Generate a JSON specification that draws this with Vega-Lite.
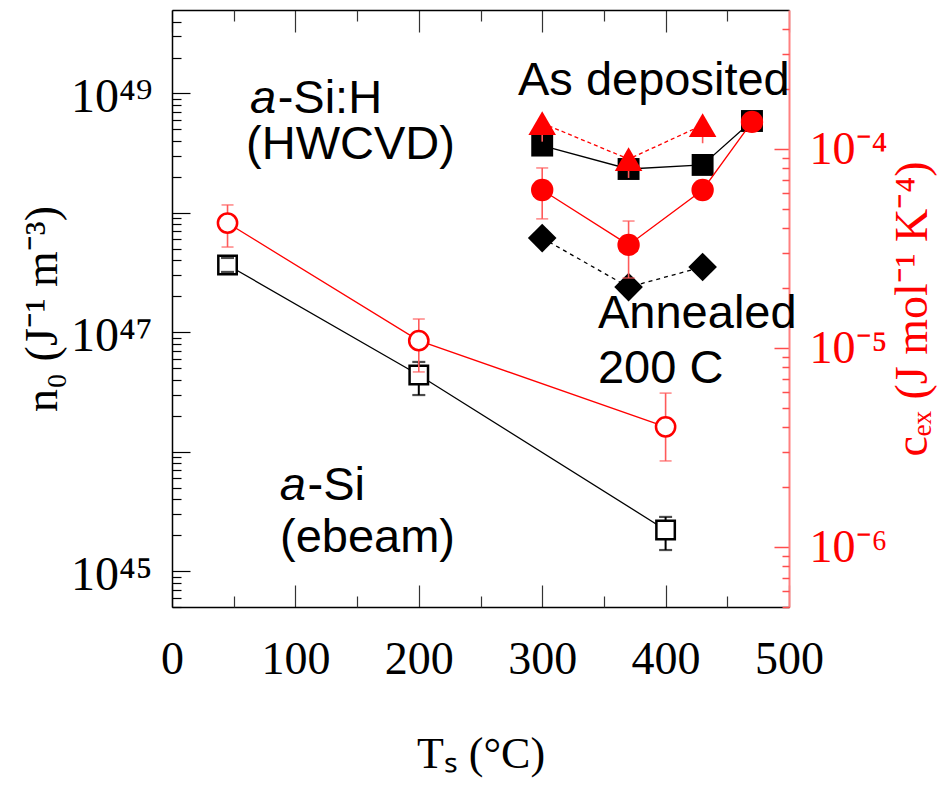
{
  "$schema": "https://vega.github.io/schema/vega-lite/v6.json",
  "width": 617,
  "height": 597,
  "autosize": {"type": "none"},
  "padding": {"left": 172, "top": 10, "right": 163, "bottom": 179},
  "background": "white",
  "config": {"view": {"stroke": null}, "axis": {"grid": false}},
  "datasets": {
    "pts": [
      {"s": "sq_open", "T": 45, "v": 3.66e47, "lo": 3.2e47, "hi": 4.19e47},
      {"s": "sq_open", "T": 200, "v": 4.39e46, "lo": 2.98e46, "hi": 5.64e46},
      {"s": "sq_open", "T": 400, "v": 2.21e45, "lo": 1.5e45, "hi": 2.84e45},
      {"s": "sq_fill", "T": 300, "v": 3.66e48},
      {"s": "sq_fill", "T": 370, "v": 2.33e48},
      {"s": "sq_fill", "T": 430, "v": 2.52e48},
      {"s": "sq_fill", "T": 470, "v": 5.88e48},
      {"s": "dia", "T": 300, "v": 6.15e47},
      {"s": "dia", "T": 370, "v": 2.39e47},
      {"s": "dia", "T": 430, "v": 3.52e47},
      {"s": "circ_open", "T": 45, "v": 4.25e-5, "lo": 3.22e-5, "hi": 5.24e-5},
      {"s": "circ_open", "T": 200, "v": 1.09e-5, "lo": 7.59e-6, "hi": 1.4e-5},
      {"s": "circ_open", "T": 400, "v": 4.02e-6, "lo": 2.71e-6, "hi": 5.94e-6},
      {"s": "circ_fill", "T": 300, "v": 6.23e-5, "lo": 4.46e-5, "hi": 8.04e-5},
      {"s": "circ_fill", "T": 370, "v": 3.3e-5, "lo": 2.25e-5, "hi": 4.35e-5},
      {"s": "circ_fill", "T": 430, "v": 6.23e-5},
      {"s": "circ_fill", "T": 470, "v": 1.37e-4},
      {"s": "tri", "T": 300, "v": 1.35e-4, "lo": 1.09e-4, "hi": 1.35e-4},
      {"s": "tri", "T": 370, "v": 8.91e-5, "lo": 7.16e-5, "hi": 8.91e-5},
      {"s": "tri", "T": 430, "v": 1.32e-4, "lo": 1.07e-4, "hi": 1.32e-4}
    ],
    "txt": [
      {"label": "a", "T": 84.3, "y": 6.86e48, "it": true},
      {"label": "-Si:H", "T": 85.6, "y": 6.86e48, "it": false},
      {"label": "(HWCVD)", "T": 60, "y": 2.83e48, "it": false},
      {"label": "As deposited", "T": 280.4, "y": 9.71e48, "it": false},
      {"label": "Annealed", "T": 345.2, "y": 1.09e47, "it": false},
      {"label": "200 C", "T": 345.2, "y": 3.76e46, "it": false},
      {"label": "a", "T": 108.5, "y": 3.94e45, "it": true},
      {"label": "-Si", "T": 109.8, "y": 3.94e45, "it": false},
      {"label": "(ebeam)", "T": 87.5, "y": 1.44e45, "it": false}
    ]
  },
  "layer": [
    {
      "data": {"name": "pts"},
      "transform": [{"filter": "datum.s == 'sq_open' || datum.s == 'sq_fill'"}],
      "mark": {"type": "line", "color": "black", "strokeWidth": 1.3},
      "encoding": {
        "x": {
          "field": "T", "type": "quantitative",
          "scale": {"domain": [0, 500], "nice": false, "zero": false},
          "axis": {
            "orient": "bottom",
            "values": [0, 100, 200, 300, 400, 500],
            "tickSize": -22,
            "tickColor": "#333333",
            "tickWidth": 1.2,
            "domainColor": "black",
            "domainWidth": 1.5,
            "format": "d",
            "labelFont": "Liberation Serif",
            "labelFontSize": 46,
            "labelColor": "black",
            "labelPadding": 52,
            "labelFlush": false,
            "labelOverlap": false,
            "title": "Tₛ (°C)",
            "titleFont": "Liberation Serif",
            "titleFontSize": 44,
            "titleFontWeight": "normal",
            "titleColor": "black",
            "titlePadding": 50
          }
        },
        "y": {
          "field": "v", "type": "quantitative",
          "scale": {"type": "log", "domain": [5e44, 5e49], "nice": false},
          "axis": {
            "orient": "left",
            "values": [1e45, 1e46, 1e47, 1e48, 1e49],
            "tickSize": -18,
            "tickColor": "black",
            "tickWidth": 1.2,
            "domainColor": "black",
            "domainWidth": 1.5,
            "labelExpr": "datum.value == 1e49 ? '10⁴⁹' : datum.value == 1e47 ? '10⁴⁷' : datum.value == 1e45 ? '10⁴⁵' : ''",
            "labelFont": "Liberation Serif",
            "labelFontSize": 48,
            "labelColor": "black",
            "labelPadding": 38,
            "labelOffset": 4,
            "labelFlush": false,
            "labelOverlap": false,
            "title": "n₀ (J⁻¹ m⁻³)",
            "titleFont": "Liberation Serif",
            "titleFontSize": 46,
            "titleFontWeight": "normal",
            "titleColor": "black",
            "titlePadding": 4
          }
        },
        "detail": {"field": "s"},
        "order": {"field": "T"}
      }
    },
    {
      "data": {"name": "pts"},
      "transform": [{"filter": "datum.s == 'dia'"}],
      "mark": {"type": "line", "color": "black", "strokeWidth": 1.3, "strokeDash": [4, 4]},
      "encoding": {
        "x": {
          "field": "T", "type": "quantitative",
          "scale": {"domain": [0, 500], "nice": false, "zero": false},
          "axis": {
            "orient": "bottom",
            "values": [50, 150, 250, 350, 450],
            "tickSize": -11,
            "tickColor": "#333333",
            "tickWidth": 1.2,
            "domain": false,
            "labels": false,
            "title": null
          }
        },
        "y": {
          "field": "v", "type": "quantitative",
          "scale": {"type": "log", "domain": [5e44, 5e49], "nice": false},
          "axis": {
            "orient": "left",
            "values": [5e44, 6e44, 7e44, 8e44, 9e44, 2e45, 3e45, 4e45, 5e45, 6e45, 7e45, 8e45, 9e45, 2e46, 3e46, 4e46, 5e46, 6e46, 7e46, 8e46, 9e46, 2e47, 3e47, 4e47, 5e47, 6e47, 7e47, 8e47, 9e47, 2e48, 3e48, 4e48, 5e48, 6e48, 7e48, 8e48, 9e48, 2e49, 3e49, 4e49],
            "tickSize": -9,
            "tickColor": "black",
            "tickWidth": 1.2,
            "domain": false,
            "labels": false,
            "title": null
          }
        },
        "order": {"field": "T"}
      }
    },
    {
      "data": {"name": "pts"},
      "transform": [{"filter": "datum.s == 'sq_open'"}],
      "mark": {"type": "rule", "color": "black", "strokeWidth": 2},
      "encoding": {
        "x": {
          "field": "T", "type": "quantitative",
          "scale": {"domain": [0, 500], "nice": false, "zero": false},
          "axis": {
            "orient": "top",
            "values": [0, 100, 200, 300, 400, 500],
            "tickSize": -22,
            "tickColor": "#333333",
            "tickWidth": 1.2,
            "domainColor": "black",
            "domainWidth": 1.5,
            "labels": false,
            "title": null
          }
        },
        "y": {"field": "lo", "type": "quantitative", "scale": {"type": "log", "domain": [5e44, 5e49], "nice": false}, "axis": null},
        "y2": {"field": "hi"}
      }
    },
    {
      "data": {"name": "pts"},
      "transform": [{"filter": "datum.s == 'sq_open'"}],
      "mark": {"type": "point", "shape": "square", "filled": true, "fill": "white", "stroke": "black", "strokeWidth": 2.5, "size": 340, "opacity": 1},
      "encoding": {
        "x": {
          "field": "T", "type": "quantitative",
          "scale": {"domain": [0, 500], "nice": false, "zero": false},
          "axis": {
            "orient": "top",
            "values": [50, 150, 250, 350, 450],
            "tickSize": -11,
            "tickColor": "#333333",
            "tickWidth": 1.2,
            "domain": false,
            "labels": false,
            "title": null
          }
        },
        "y": {"field": "v", "type": "quantitative", "scale": {"type": "log", "domain": [5e44, 5e49], "nice": false}, "axis": null}
      }
    },
    {
      "data": {"name": "pts"},
      "transform": [{"filter": "datum.s == 'sq_open'"}],
      "mark": {"type": "tick", "orient": "horizontal", "color": "black", "size": 13, "thickness": 2.2},
      "encoding": {
        "x": {"field": "T", "type": "quantitative", "scale": {"domain": [0, 500], "nice": false, "zero": false}, "axis": null},
        "y": {"field": "lo", "type": "quantitative", "scale": {"type": "log", "domain": [5e44, 5e49], "nice": false}, "axis": null}
      }
    },
    {
      "data": {"name": "pts"},
      "transform": [{"filter": "datum.s == 'sq_open'"}],
      "mark": {"type": "tick", "orient": "horizontal", "color": "black", "size": 13, "thickness": 2.2},
      "encoding": {
        "x": {"field": "T", "type": "quantitative", "scale": {"domain": [0, 500], "nice": false, "zero": false}, "axis": null},
        "y": {"field": "hi", "type": "quantitative", "scale": {"type": "log", "domain": [5e44, 5e49], "nice": false}, "axis": null}
      }
    },
    {
      "data": {"name": "pts"},
      "transform": [{"filter": "datum.s == 'sq_fill'"}],
      "mark": {"type": "point", "shape": "square", "filled": true, "color": "black", "size": 480, "opacity": 1},
      "encoding": {
        "x": {"field": "T", "type": "quantitative", "scale": {"domain": [0, 500], "nice": false, "zero": false}, "axis": null},
        "y": {"field": "v", "type": "quantitative", "scale": {"type": "log", "domain": [5e44, 5e49], "nice": false}, "axis": null}
      }
    },
    {
      "data": {"name": "pts"},
      "transform": [{"filter": "datum.s == 'dia'"}],
      "mark": {"type": "point", "shape": "diamond", "filled": true, "color": "black", "size": 820, "opacity": 1},
      "encoding": {
        "x": {"field": "T", "type": "quantitative", "scale": {"domain": [0, 500], "nice": false, "zero": false}, "axis": null},
        "y": {"field": "v", "type": "quantitative", "scale": {"type": "log", "domain": [5e44, 5e49], "nice": false}, "axis": null}
      }
    },
    {
      "data": {"name": "txt"},
      "transform": [{"filter": "datum.it"}],
      "mark": {"type": "text", "font": "Liberation Sans", "fontSize": 47, "fontStyle": "italic", "align": "right", "baseline": "alphabetic", "color": "black"},
      "encoding": {
        "x": {"field": "T", "type": "quantitative", "scale": {"domain": [0, 500], "nice": false, "zero": false}, "axis": null},
        "y": {"field": "y", "type": "quantitative", "scale": {"type": "log", "domain": [5e44, 5e49], "nice": false}, "axis": null},
        "text": {"field": "label"}
      }
    },
    {
      "data": {"name": "txt"},
      "transform": [{"filter": "!datum.it"}],
      "mark": {"type": "text", "font": "Liberation Sans", "fontSize": 47, "align": "left", "baseline": "alphabetic", "color": "black"},
      "encoding": {
        "x": {"field": "T", "type": "quantitative", "scale": {"domain": [0, 500], "nice": false, "zero": false}, "axis": null},
        "y": {"field": "y", "type": "quantitative", "scale": {"type": "log", "domain": [5e44, 5e49], "nice": false}, "axis": null},
        "text": {"field": "label"}
      }
    },
    {
      "data": {"name": "pts"},
      "transform": [{"filter": "datum.s == 'circ_open' || datum.s == 'circ_fill'"}],
      "mark": {"type": "line", "color": "#ff0000", "strokeWidth": 1.3},
      "encoding": {
        "x": {"field": "T", "type": "quantitative", "scale": {"domain": [0, 500], "nice": false, "zero": false}, "axis": null},
        "y": {
          "field": "v", "type": "quantitative",
          "scale": {"type": "log", "domain": [5e-7, 5e-4], "nice": false},
          "axis": {
            "orient": "right",
            "values": [1e-6, 1e-5, 1e-4],
            "tickSize": -15,
            "tickColor": "#ff4d4d",
            "tickWidth": 1.5,
            "domainColor": "#ff8080",
            "domainWidth": 2,
            "labelExpr": "datum.value == 1e-4 ? '10⁻⁴' : datum.value == 1e-5 ? '10⁻⁵' : '10⁻⁶'",
            "labelFont": "Liberation Serif",
            "labelFontSize": 46,
            "labelColor": "#ff0000",
            "labelPadding": 35,
            "labelFlush": false,
            "labelOverlap": false,
            "title": "cₑₓ (J mol⁻¹ K⁻⁴)",
            "titleFont": "Liberation Serif",
            "titleFontSize": 46,
            "titleFontWeight": "normal",
            "titleColor": "#ff0000",
            "titleAngle": 270,
            "titleBaseline": "top",
            "titlePadding": 3
          }
        },
        "detail": {"field": "s"},
        "order": {"field": "T"}
      }
    },
    {
      "data": {"name": "pts"},
      "transform": [{"filter": "datum.s == 'tri'"}],
      "mark": {"type": "line", "color": "#ff0000", "strokeWidth": 1.3, "strokeDash": [4, 3]},
      "encoding": {
        "x": {"field": "T", "type": "quantitative", "scale": {"domain": [0, 500], "nice": false, "zero": false}, "axis": null},
        "y": {
          "field": "v", "type": "quantitative",
          "scale": {"type": "log", "domain": [5e-7, 5e-4], "nice": false},
          "axis": {
            "orient": "right",
            "values": [5e-7, 6e-7, 7e-7, 8e-7, 9e-7, 2e-6, 3e-6, 4e-6, 5e-6, 6e-6, 7e-6, 8e-6, 9e-6, 2e-5, 3e-5, 4e-5, 5e-5, 6e-5, 7e-5, 8e-5, 9e-5, 2e-4, 3e-4, 4e-4],
            "tickSize": -7,
            "tickColor": "#ff4d4d",
            "tickWidth": 1.5,
            "domain": false,
            "labels": false,
            "title": null
          }
        },
        "order": {"field": "T"}
      }
    },
    {
      "data": {"name": "pts"},
      "transform": [{"filter": "isValid(datum.lo) && (datum.s == 'circ_open' || datum.s == 'circ_fill' || datum.s == 'tri')"}],
      "mark": {"type": "rule", "color": "#ff5a5a", "strokeWidth": 1.6},
      "encoding": {
        "x": {"field": "T", "type": "quantitative", "scale": {"domain": [0, 500], "nice": false, "zero": false}, "axis": null},
        "y": {"field": "lo", "type": "quantitative", "scale": {"type": "log", "domain": [5e-7, 5e-4], "nice": false}, "axis": null},
        "y2": {"field": "hi"}
      }
    },
    {
      "data": {"name": "pts"},
      "transform": [{"filter": "isValid(datum.lo) && (datum.s == 'circ_open' || datum.s == 'circ_fill')"}],
      "mark": {"type": "tick", "orient": "horizontal", "color": "#ff5a5a", "size": 12, "thickness": 1.6},
      "encoding": {
        "x": {"field": "T", "type": "quantitative", "scale": {"domain": [0, 500], "nice": false, "zero": false}, "axis": null},
        "y": {"field": "lo", "type": "quantitative", "scale": {"type": "log", "domain": [5e-7, 5e-4], "nice": false}, "axis": null}
      }
    },
    {
      "data": {"name": "pts"},
      "transform": [{"filter": "isValid(datum.lo) && (datum.s == 'circ_open' || datum.s == 'circ_fill')"}],
      "mark": {"type": "tick", "orient": "horizontal", "color": "#ff5a5a", "size": 12, "thickness": 1.6},
      "encoding": {
        "x": {"field": "T", "type": "quantitative", "scale": {"domain": [0, 500], "nice": false, "zero": false}, "axis": null},
        "y": {"field": "hi", "type": "quantitative", "scale": {"type": "log", "domain": [5e-7, 5e-4], "nice": false}, "axis": null}
      }
    },
    {
      "data": {"name": "pts"},
      "transform": [{"filter": "datum.s == 'circ_open'"}],
      "mark": {"type": "point", "shape": "circle", "filled": true, "fill": "white", "stroke": "#ff0000", "strokeWidth": 2.5, "size": 370, "opacity": 1},
      "encoding": {
        "x": {"field": "T", "type": "quantitative", "scale": {"domain": [0, 500], "nice": false, "zero": false}, "axis": null},
        "y": {"field": "v", "type": "quantitative", "scale": {"type": "log", "domain": [5e-7, 5e-4], "nice": false}, "axis": null}
      }
    },
    {
      "data": {"name": "pts"},
      "transform": [{"filter": "datum.s == 'circ_fill'"}],
      "mark": {"type": "point", "shape": "circle", "filled": true, "color": "#ff0000", "size": 500, "opacity": 1},
      "encoding": {
        "x": {"field": "T", "type": "quantitative", "scale": {"domain": [0, 500], "nice": false, "zero": false}, "axis": null},
        "y": {"field": "v", "type": "quantitative", "scale": {"type": "log", "domain": [5e-7, 5e-4], "nice": false}, "axis": null}
      }
    },
    {
      "data": {"name": "pts"},
      "transform": [{"filter": "datum.s == 'tri'"}],
      "mark": {"type": "point", "shape": "triangle-up", "filled": true, "color": "#ff0000", "size": 760, "opacity": 1},
      "encoding": {
        "x": {"field": "T", "type": "quantitative", "scale": {"domain": [0, 500], "nice": false, "zero": false}, "axis": null},
        "y": {"field": "v", "type": "quantitative", "scale": {"type": "log", "domain": [5e-7, 5e-4], "nice": false}, "axis": null}
      }
    }
  ],
  "resolve": {"scale": {"y": "independent"}, "axis": {"x": "independent", "y": "independent"}}
}
